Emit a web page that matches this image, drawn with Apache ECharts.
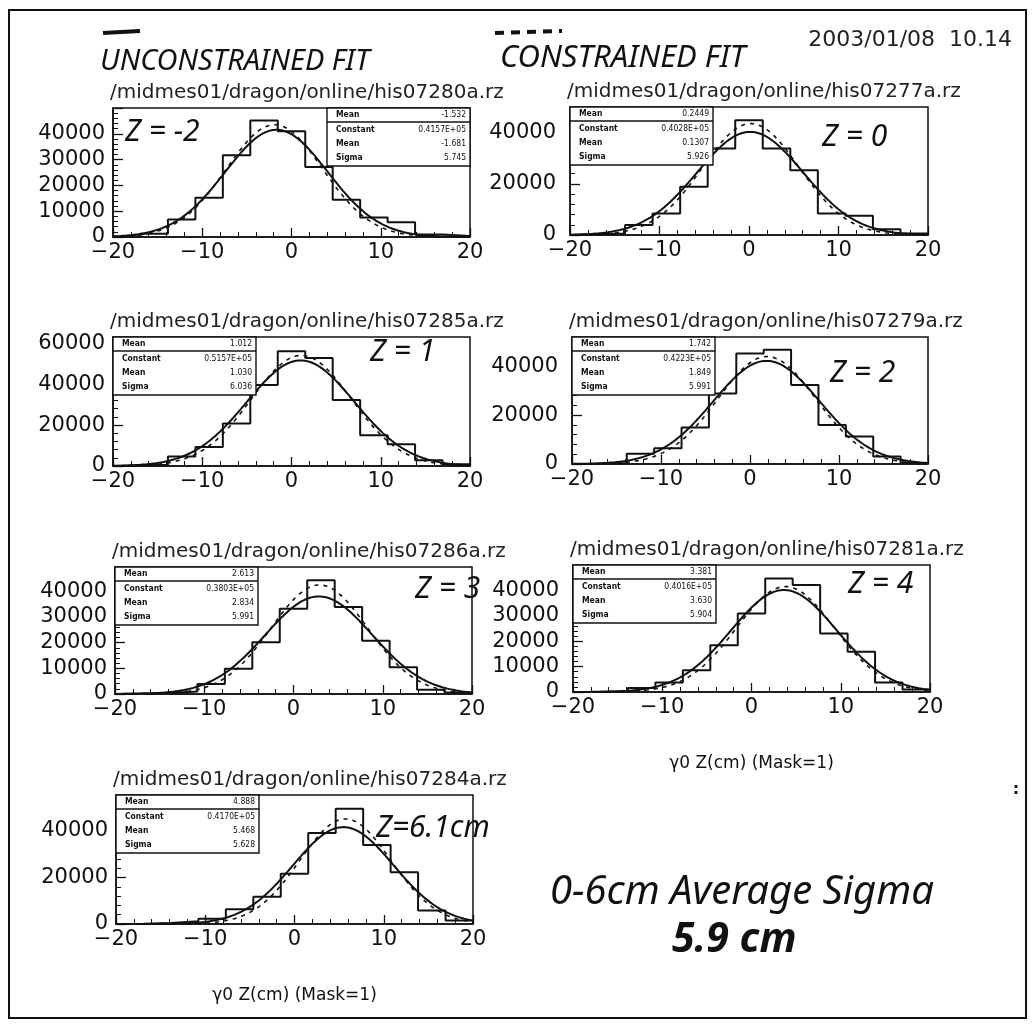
<!DOCTYPE html>
<html><head><meta charset="utf-8">
<script src="https://cdn.jsdelivr.net/npm/echarts@6/dist/echarts.min.js"></script>
<style>html,body{margin:0;padding:0;background:#fff}#c{width:1032px;height:1025px}</style>
</head><body><div id="c"></div><script>
// ---------- data ----------
const xRange = [-20, 20];
const binCount = 13;
const fileNames = ['his07280a.rz','his07277a.rz','his07285a.rz','his07279a.rz','his07286a.rz','his07281a.rz','his07284a.rz'];
const zLabels = ['Z = -2','Z = 0','Z = 1','Z = 2','Z = 3','Z = 4','Z=6.1cm'];
const histMeanText = ['-1.532','0.2449','1.012','1.742','2.613','3.381','4.888'];
const fitConstText = ['0.4157E+05','0.4028E+05','0.5157E+05','0.4223E+05','0.3803E+05','0.4016E+05','0.4170E+05'];
const fitMeanText = ['-1.681','0.1307','1.030','1.849','2.834','3.630','5.468'];
const fitSigmaText = ['5.745','5.926','6.036','5.991','5.991','5.904','5.628'];
const fitConstant = [41570, 40280, 51570, 42230, 38030, 40160, 41700];
const fitMean = [-1.681, 0.1307, 1.030, 1.849, 2.834, 3.630, 5.468];
const fitSigma = [5.745, 5.926, 6.036, 5.991, 5.991, 5.904, 5.628];
// constrained fit (dashed)
const consConstant = [43500, 43500, 54000, 44000, 42500, 41500, 45200];
const consMean = [-1.9, 0.2, 1.1, 1.9, 2.9, 3.8, 5.7];
const consSigma = [5.4, 5.4, 5.6, 5.5, 5.4, 5.5, 5.1];
const binsZm2 = [400, 1300, 6800, 15200, 31700, 45200, 41000, 27100, 14400, 7600, 5700, 1000, 400];
const binsZ0  = [300, 600, 3900, 8400, 18800, 33800, 44800, 33800, 25300, 8400, 7500, 2200, 600];
const binsZ1  = [300, 600, 4700, 9300, 20800, 39600, 56000, 52700, 32200, 15000, 10600, 2800, 800];
const binsZ2  = [100, 400, 4200, 6500, 14900, 28900, 45200, 46800, 32300, 16000, 11300, 3100, 400];
const binsZ3  = [200, 400, 1000, 3900, 9800, 20200, 33200, 44300, 33900, 20800, 10400, 1700, 600];
const binsZ4  = [100, 300, 1600, 3700, 8600, 18400, 30900, 44700, 42100, 23000, 15800, 3700, 1000];
const binsZ6  = [100, 400, 1200, 2300, 6300, 11700, 21600, 39100, 49600, 34000, 22300, 5800, 1500];
const allBins = [binsZm2, binsZ0, binsZ1, binsZ2, binsZ3, binsZ4, binsZ6];
const yMax = [50000, 50000, 63000, 52000, 49500, 50000, 55500];
const yInterval = [10000, 20000, 20000, 20000, 10000, 10000, 20000];
const axisTitle = 'γ0 Z(cm) (Mask=1)';
const dateText = '2003/01/08  10.14';

// ---------- layout ----------
const grids = [
  [113,108,357,129],[570,107,358,128],
  [113,337,357,129],[572,337,356,127],
  [115,567,357,127],[573,565,357,127],
  [116,795,357,129]
];
const zPos = [[125,132],[822,137],[370,352],[830,373],[415,589],[848,584],[376,828]];
const ink = '#111';
const mono = '"DejaVu Sans", sans-serif';
const hand = '"Noto Sans", "DejaVu Sans", sans-serif';
const small = '"DejaVu Sans Condensed", "DejaVu Sans", sans-serif';

const fmtX = v => String(v).replace('-', '\u2212');
const fmtY = v => String(v);
const option = {animation:false, backgroundColor:'#fff', grid:[], xAxis:[], yAxis:[], series:[], graphic:[]};

grids.forEach((g,i) => {
  option.grid.push({left:g[0], top:g[1], width:g[2], height:g[3], show:true, borderColor:ink, borderWidth:1.5, backgroundColor:'#fff'});
  const isLeft = (i % 2 === 0);
  option.xAxis.push({
    gridIndex:i, type:'value', min:xRange[0], max:xRange[1], interval:10,
    axisLine:{show:true, onZero:false, lineStyle:{color:ink, width:1.5}},
    axisTick:{show:true, inside:true, length:9, lineStyle:{color:ink, width:1.3}},
    minorTick:{show:true, splitNumber:5, length:5, lineStyle:{color:ink, width:1}},
    splitLine:{show:false},
    axisLabel:{color:ink, fontSize:21, fontFamily:mono, margin:5, formatter:fmtX, hideOverlap:false},
    name:(i===5||i===6)?axisTitle:'', nameLocation:'middle', nameGap:63,
    nameTextStyle:{color:ink, fontSize:17, fontFamily:mono}
  });
  option.yAxis.push({
    gridIndex:i, type:'value', min:0, max:yMax[i], interval:yInterval[i],
    axisLine:{show:true, onZero:false, lineStyle:{color:ink, width:1.5}},
    axisTick:{show:true, inside:true, length:10, lineStyle:{color:ink, width:1.3}},
    minorTick:{show:true, splitNumber:5, length:5, lineStyle:{color:ink, width:1}},
    splitLine:{show:false},
    axisLabel:{color:ink, fontSize:21, fontFamily:mono, margin:isLeft?8:14, formatter:fmtY, showMaxLabel:false, hideOverlap:false}
  });
  // histogram outline
  const w = (xRange[1]-xRange[0])/binCount;
  const h = allBins[i];
  const pts = [[xRange[0],0]];
  h.forEach((v,k) => pts.push([xRange[0]+k*w, v]));
  pts.push([xRange[1], h[h.length-1]]);
  pts.push([xRange[1], 0]);
  option.series.push({type:'line', xAxisIndex:i, yAxisIndex:i, data:pts, step:'end', symbol:'none',
    lineStyle:{color:ink, width:2}, clip:true, z:3});
  // fit curves
  const solid = [], dashed = [];
  for (let x = xRange[0]; x <= xRange[1] + 1e-9; x += 0.25) {
    solid.push([x, fitConstant[i]*Math.exp(-0.5*Math.pow((x-fitMean[i])/fitSigma[i],2))]);
    dashed.push([x, consConstant[i]*Math.exp(-0.5*Math.pow((x-consMean[i])/consSigma[i],2))]);
  }
  option.series.push({type:'line', xAxisIndex:i, yAxisIndex:i, data:solid, symbol:'none', smooth:false,
    lineStyle:{color:ink, width:2}, clip:true, z:4});
  option.series.push({type:'line', xAxisIndex:i, yAxisIndex:i, data:dashed, symbol:'none', smooth:false,
    lineStyle:{color:ink, width:1.6, type:[4,5]}, clip:true, z:4});

  // title
  option.graphic.push({type:'text', left:g[0]-3, top:g[1]-25, z:10,
    style:{text:'/midmes01/dragon/online/'+fileNames[i], fill:'#222', fontSize:20, fontFamily:mono}});
  // stats box
  const bw = 143, bh = 58;
  const bx = (i===0) ? g[0]+g[2]-bw : g[0];
  const by = g[1];
  option.graphic.push({type:'rect', shape:{x:bx, y:by, width:bw, height:bh}, z:8,
    style:{fill:'#fff', stroke:ink, lineWidth:1.4}});
  option.graphic.push({type:'line', shape:{x1:bx, y1:by+14, x2:bx+bw, y2:by+14}, z:9, style:{stroke:ink, lineWidth:1.4}});
  const rows = [['Mean', histMeanText[i]],['Constant', fitConstText[i]],['Mean', fitMeanText[i]],['Sigma', fitSigmaText[i]]];
  const ry = [by+7, by+22, by+36, by+50];
  rows.forEach((r,k) => {
    option.graphic.push({type:'text', x:bx+9, y:ry[k], z:10,
      style:{text:r[0], fill:ink, fontSize:8.5, fontWeight:'bold', fontFamily:small, verticalAlign:'middle', align:'left'}});
    option.graphic.push({type:'text', x:bx+bw-4, y:ry[k], z:10,
      style:{text:r[1], fill:ink, fontSize:8.5, fontFamily:small, verticalAlign:'middle', align:'right'}});
  });
  // handwritten z label
  option.graphic.push({type:'text', x:zPos[i][0], y:zPos[i][1], z:11,
    style:{text:zLabels[i], fill:ink, fontSize:30, fontStyle:'italic', fontFamily:hand, verticalAlign:'middle', align:'left'}});
});

// page annotations
option.graphic.push(
  {type:'rect', shape:{x:9, y:10, width:1017, height:1008}, z:1, silent:true, style:{fill:'none', stroke:ink, lineWidth:2}},
  {type:'line', shape:{x1:103, y1:33, x2:140, y2:31}, z:11, style:{stroke:ink, lineWidth:4}},
  {type:'line', shape:{x1:495, y1:33, x2:562, y2:31}, z:11, style:{stroke:ink, lineWidth:4, lineDash:[9,7]}},
  {type:'text', x:100, y:62, z:11, style:{text:'UNCONSTRAINED FIT', fill:ink, fontSize:29, fontStyle:'italic', fontFamily:hand, verticalAlign:'middle'}},
  {type:'text', x:500, y:58, z:11, style:{text:'CONSTRAINED FIT', fill:ink, fontSize:31, fontStyle:'italic', fontFamily:hand, verticalAlign:'middle'}},
  {type:'text', x:1012, y:40, z:11, style:{text:dateText, fill:'#222', fontSize:22, fontFamily:mono, verticalAlign:'middle', align:'right'}},
  {type:'text', x:550, y:893, z:11, style:{text:'0-6cm Average Sigma', fill:ink, fontSize:40, fontStyle:'italic', fontFamily:hand, verticalAlign:'middle'}},
  {type:'text', x:672, y:940, z:11, style:{text:'5.9 cm', fill:ink, fontSize:41, fontStyle:'italic', fontWeight:'bold', fontFamily:hand, verticalAlign:'middle'}},
  {type:'text', x:1016, y:790, z:11, style:{text:':', fill:ink, fontSize:16, fontWeight:'bold', fontFamily:mono, verticalAlign:'middle', align:'center'}}
);

const chart = echarts.init(document.getElementById('c'), null, {renderer:'canvas'});
chart.setOption(option);
</script></body></html>
